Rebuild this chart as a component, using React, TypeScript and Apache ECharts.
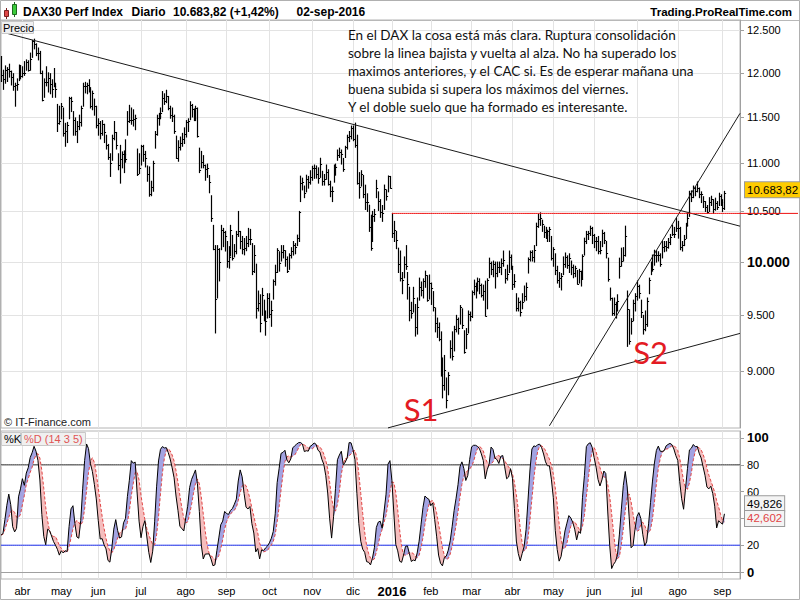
import React, { useEffect, useRef } from 'react';
import * as echarts from 'echarts';

const FONT = '"Liberation Sans", Arial, sans-serif';
const NOTE_FONT = 'Lato, "Liberation Sans", sans-serif';
const RED = '#e31b23';
const LINE_RED = '#ee1111';

// ---- trading calendar ----
const START_DATE = '2015-03-17';
const HOLIDAYS = [
  '2015-04-03', '2015-04-06', '2015-05-01', '2015-05-25', '2015-12-24', '2015-12-25',
  '2015-12-31', '2016-01-01', '2016-03-25', '2016-03-28', '2016-05-16',
];
const PAD_DAYS = 8;
const MONTHS = ['ene', 'feb', 'mar', 'abr', 'may', 'jun', 'jul', 'ago', 'sep', 'oct', 'nov', 'dic'];

// ---- daily DAX bars (high / low / close), 17-mar-2015 .. 02-sep-2016 ----
const HIGH = [
  12190, 12030, 12080, 12060, 12100, 12020, 11990, 11880, 11930, 12090, 12085,
  12070, 12130, 12150, 12140, 12230, 12380, 12395, 12340, 12290, 12250, 12020, 11930, 12070, 12000, 11990, 11920, 12050, 11880, 11640, 11620,
  11650, 11600, 11430, 11440, 11720, 11720, 11560, 11490, 11450, 11520, 11620, 11880, 11890, 11880, 11920, 11830, 11790, 11700, 11620,
  11480, 11450, 11460, 11420, 11300, 11200, 11100, 11300, 11450, 11330, 11100, 11190, 11120, 11130, 11250, 11560, 11630, 11600, 11580, 11520, 11150, 11100,
  11190, 11190, 11125, 10970, 10960, 10810, 11020, 11340, 11520, 11540, 11600, 11785, 11760, 11800, 11730, 11620, 11600, 11520, 11290, 11240, 11280, 11320, 11380,
  11460, 11480, 11670, 11640, 11590, 11620, 11600, 11160, 11125, 11080, 10980, 10990, 10870, 10660, 10360, 10160, 10160, 10130, 10360, 10330, 10300,
  10200, 10150, 10360, 10260, 10170, 10300, 10500, 10300, 10250, 10230, 10250, 10330, 10320, 10180, 10160, 9980, 9725, 9690, 9750, 9640, 9540, 9700,
  9700, 9630, 9830, 9970, 10130, 10100, 10160, 10160, 10110, 10050, 10080, 10140, 10200, 10180, 10263, 10500, 10863, 10842, 10760, 10873, 10860, 10920,
  10967, 10980, 10970, 10950, 11052, 10914, 10880, 10980, 10930, 10810, 10750, 10980, 10990, 11140, 11160, 11140, 11050, 11180, 11300, 11340, 11400,
  11400, 11432, 11300, 10900, 10920, 10870, 10769, 10680, 10563, 10462, 10500, 10520, 10820, 10700, 10620, 10560, 10770, 10720, 10865, 10860,
  10480, 10400, 10300, 10135, 10107, 9900, 10050, 10160, 9900, 9760, 9620, 9760, 9600, 9660, 9847, 9810, 9840, 9913, 9870, 9876,
  9800, 9720, 9567, 9475, 9430, 9350, 9118, 9140, 8944, 8990, 9270, 9350, 9400, 9500, 9475, 9590, 9560, 9360, 9380, 9540, 9530,
  9725, 9828, 9800, 9847, 9840, 9790, 9780, 9818, 9840, 10038, 10000, 10010, 10000, 10000, 10000, 10030, 10107, 9930, 9970, 10107, 10068,
  9960, 9880, 9700, 9660, 9630, 9700, 9772, 9800, 10040, 10107, 10110, 10160, 10382, 10472, 10486, 10412, 10352, 10340, 10312, 10340, 10250,
  10140, 10080, 9960, 9900, 9890, 10050, 10088, 10060, 10080, 10010, 9971, 9960, 9920, 9930, 9913, 10070, 10233, 10300, 10300, 10352, 10340,
  10270, 10240, 10250, 10200, 10312, 10290, 10200, 10038, 9753, 9659, 9660, 9620, 9690, 10038, 10135, 10140, 10352, 9725, 9550, 9470, 9640, 9700,
  9820, 9780, 9640, 9500, 9540, 9660, 9847, 10000, 10068, 10115, 10110, 10100, 10080, 10200, 10200, 10200, 10230, 10270, 10362, 10340, 10432,
  10400, 10340, 10200, 10260, 10380, 10480, 10706, 10710, 10760, 10750, 10802, 10740, 10700, 10650, 10600, 10560, 10640, 10655, 10620, 10635, 10600, 10686, 10670,
  10620, 10705,
];
const LOW = [
  11900, 11810, 11880, 11900, 11950, 11860, 11800, 11620, 11800, 11910, 11930,
  11950, 11970, 12030, 12020, 12030, 12180, 12280, 12200, 12150, 11990, 11680, 11720, 11850, 11780, 11760, 11720, 11840, 11720, 11340, 11420,
  11480, 11290, 11180, 11220, 11480, 11560, 11300, 11300, 11220, 11360, 11400, 11620, 11770, 11760, 11780, 11600, 11580, 11520, 11380,
  11300, 11260, 11300, 11220, 11150, 11040, 10860, 11030, 11250, 11150, 10930, 10790, 10950, 10900, 11010, 11300, 11440, 11420, 11400, 11360, 10870, 10890,
  10980, 11020, 10960, 10810, 10655, 10660, 10706, 11160, 11300, 11410, 11480, 11560, 11640, 11660, 11580, 11486, 11450, 11320, 11050, 11020, 11140, 11180, 11210,
  11280, 11340, 11470, 11500, 11460, 11460, 11280, 10900, 10950, 10950, 10820, 10850, 10690, 10400, 10120, 9340, 9660, 9820, 10120, 10150, 10107,
  9950, 9942, 10060, 10020, 10050, 10080, 10250, 10130, 10080, 10070, 10110, 10150, 10170, 9880, 9900, 9475, 9540, 9350, 9500, 9450, 9320, 9475,
  9480, 9400, 9650, 9780, 9900, 9913, 10010, 10040, 9960, 9900, 9930, 10040, 10068, 10080, 10160, 10200, 10600, 10720, 10640, 10700, 10738, 10780,
  10820, 10840, 10842, 10790, 10850, 10769, 10770, 10830, 10770, 10650, 10600, 10800, 10873, 11030, 11060, 10990, 10914, 11060, 11150, 11230, 11260,
  11240, 11170, 10780, 10635, 10760, 10640, 10520, 10500, 10300, 10115, 10200, 10400, 10640, 10510, 10440, 10400, 10520, 10615, 10700, 10738,
  10240, 10200, 10130, 9900, 9820, 9700, 9850, 9930, 9650, 9450, 9475, 9530, 9312, 9330, 9640, 9680, 9660, 9760, 9630, 9650,
  9600, 9540, 9350, 9300, 9270, 8960, 8774, 8840, 8690, 8800, 9118, 9100, 9180, 9350, 9330, 9420, 9380, 9160, 9200, 9340, 9450,
  9480, 9690, 9660, 9725, 9700, 9670, 9640, 9494, 9560, 9850, 9880, 9860, 9753, 9860, 9900, 9880, 9960, 9800, 9828, 9900, 9930,
  9740, 9760, 9540, 9540, 9494, 9560, 9630, 9640, 9895, 10010, 10010, 10000, 10160, 10340, 10360, 10300, 10240, 10230, 10200, 10200, 10020,
  9960, 9880, 9800, 9760, 9735, 9880, 9950, 9940, 9900, 9880, 9850, 9860, 9790, 9800, 9772, 9840, 10068, 10180, 10220, 10260, 10180,
  10140, 10110, 10080, 10080, 10150, 10180, 10040, 9818, 9640, 9500, 9500, 9475, 9540, 9847, 9960, 10010, 10058, 9220, 9240, 9330, 9450, 9540,
  9640, 9659, 9480, 9330, 9360, 9400, 9700, 9880, 9913, 9970, 10000, 10010, 9960, 10040, 10100, 10107, 10135, 10170, 10260, 10240, 10300,
  10233, 10120, 10107, 10160, 10230, 10352, 10450, 10600, 10640, 10660, 10700, 10640, 10590, 10540, 10500, 10480, 10500, 10560, 10480, 10512, 10520, 10560, 10560,
  10500, 10520,
];
const CLOSE = [
  11980, 11923, 12036, 12039, 12018, 11946, 11843, 11865, 11868, 12086, 11967,
  11998, 12001, 12123, 12035, 12166, 12374, 12338, 12227, 12231, 11998, 11689, 11891, 11896, 11939, 11867, 11810, 11850, 11811, 11432, 11454,
  11621, 11327, 11350, 11416, 11709, 11673, 11472, 11351, 11400, 11447, 11595, 11853, 11848, 11864, 11815, 11626, 11771, 11621, 11413,
  11436, 11328, 11419, 11340, 11197, 11064, 11001, 11265, 11332, 11196, 10984, 11044, 11100, 11100, 11040, 11460, 11471, 11472, 11473, 11492, 10890, 10945,
  11180, 11099, 11058, 10890, 10676, 10747, 10997, 11316, 11484, 11516, 11540, 11717, 11673, 11735, 11604, 11520, 11513, 11347, 11056, 11173, 11211, 11257, 11308,
  11444, 11456, 11636, 11585, 11490, 11604, 11293, 10925, 11015, 10985, 10940, 10950, 10800, 10432, 10124, 9648, 10128, 9997, 10315, 10298, 10259,
  10015, 10048, 10318, 10038, 10108, 10271, 10303, 10210, 10123, 10132, 10188, 10227, 10229, 9916, 10066, 9570, 9612, 9428, 9688, 9483, 9450, 9660,
  9509, 9553, 9815, 9902, 10119, 9993, 10097, 10119, 10033, 9915, 10065, 10104, 10165, 10147, 10238, 10492, 10795, 10801, 10692, 10831, 10801, 10850,
  10951, 10951, 10887, 10845, 10988, 10815, 10832, 10908, 10782, 10708, 10713, 10971, 10959, 11085, 11119, 11092, 10933, 11170, 11284, 11293, 11382,
  11261, 11190, 10789, 10752, 10886, 10673, 10592, 10598, 10340, 10140, 10450, 10470, 10738, 10608, 10497, 10488, 10727, 10653, 10860, 10743,
  10283, 10310, 10214, 9979, 9849, 9825, 9985, 9960, 9794, 9545, 9521, 9664, 9392, 9574, 9764, 9737, 9822, 9880, 9639, 9798,
  9757, 9581, 9434, 9393, 9286, 8979, 8880, 9017, 8752, 8967, 9206, 9135, 9377, 9463, 9388, 9573, 9416, 9167, 9331, 9513, 9495,
  9717, 9776, 9751, 9824, 9778, 9692, 9723, 9498, 9831, 9990, 9933, 9984, 9892, 9950, 9948, 9990, 10022, 9851, 9888, 10046, 9966,
  9794, 9822, 9564, 9624, 9530, 9622, 9682, 9761, 10027, 10094, 10051, 10120, 10350, 10421, 10435, 10373, 10294, 10260, 10299, 10322, 10039,
  10123, 9926, 9829, 9851, 9870, 9980, 10045, 9975, 10041, 9952, 9891, 9943, 9795, 9916, 9842, 10057, 10205, 10272, 10287, 10333, 10263,
  10205, 10209, 10103, 10121, 10288, 10218, 10088, 9834, 9657, 9520, 9607, 9551, 9631, 9962, 10015, 10071, 10258, 9557, 9269, 9448, 9613, 9680,
  9776, 9710, 9532, 9374, 9419, 9629, 9833, 9964, 9930, 10068, 10066, 10064, 9982, 10142, 10157, 10147, 10199, 10247, 10275, 10275, 10337,
  10330, 10145, 10170, 10228, 10367, 10432, 10693, 10651, 10743, 10713, 10740, 10677, 10679, 10603, 10544, 10495, 10593, 10623, 10529, 10588, 10545, 10658, 10593,
  10534, 10683.82,
];

// ---- axes / annotations ----
const PRICE_TICKS = [9000, 9500, 10000, 10500, 11000, 11500, 12000, 12500];
const PRICE_RANGE = [8523, 12626];
const STOCH_TICKS = [0, 20, 40, 60, 80, 100];
const STOCH_LABELS = [0, 20, 60, 80, 100]; // 40 sits under the value boxes
const STOCH_RANGE = [-5.2, 105.2];
const STOCH_BANDS = [
  { level: 80, color: '#3a3a3a' },
  { level: 20, color: '#1a2cf0' },
];
const LAST_PRICE = 10683.82;
const LAST_K = 49.826;
const LAST_D = 42.602;
const RESISTANCE = { from: '2016-01-04', price: 10480 };
const TRENDLINES = [
  { from: '2015-03-17', p1: 12484, p2: 10352 },
  { from: '2016-04-28', p1: 8541, p2: 11540 },
  { from: '2015-12-29', p1: 8524, p2: 9336 },
];
const SUPPORT_LABELS = [
  { text: 'S1', date: '2016-01-25', price: 8679 },
  { text: 'S2', date: '2016-07-12', price: 9168 },
];
const NOTE = [
  'En el DAX la cosa está más clara. Ruptura consolidación',
  'sobre la linea bajista y vuelta al alza. No ha superado los',
  'maximos anteriores, y el CAC si. Es de esperar mañana una',
  'buena subida si supera los máximos del viernes.',
  'Y el doble suelo que ha formado es interesante.',
];

function buildDates(n: number): string[] {
  const out: string[] = [];
  const d = new Date(START_DATE + 'T00:00:00Z');
  while (out.length < n) {
    const wd = d.getUTCDay();
    const s = d.toISOString().slice(0, 10);
    if (wd !== 0 && wd !== 6 && HOLIDAYS.indexOf(s) < 0) out.push(s);
    d.setUTCDate(d.getUTCDate() + 1);
  }
  return out;
}

const thousands = (n: number) => String(n).replace(/\B(?=(\d{3})+(?!\d))/g, '.');
const fmtPrice = (v: number) => {
  const [i, d] = v.toFixed(2).split('.');
  return thousands(+i) + ',' + d;
};
const fmtStoch = (v: number) => v.toFixed(3).replace('.', ',');

function sma(arr: number[], n: number): number[] {
  return arr.map((_, i) => {
    const s = Math.max(0, i - n + 1);
    let t = 0;
    for (let j = s; j <= i; j++) t += arr[j];
    return t / (i - s + 1);
  });
}

export default function App() {
  const ref = useRef<HTMLDivElement>(null);

  useEffect(() => {
    document.body.style.margin = '0';
    if (!ref.current) return;
    const chart = echarts.init(ref.current, undefined, { renderer: 'svg' });

    const N = CLOSE.length;
    const cats = buildDates(N + PAD_DAYS);
    const last = cats.length - 1;
    const monthStart = cats.map((c, i) => i > 0 && c.slice(5, 7) !== cats[i - 1].slice(5, 7));
    const idx = (d: string) => cats.indexOf(d);
    const L = Math.log;

    // stochastic (14, 3, 5)
    const raw = CLOSE.map((c, i) => {
      const s = Math.max(0, i - 13);
      let hh = -Infinity;
      let ll = Infinity;
      for (let j = s; j <= i; j++) {
        hh = Math.max(hh, HIGH[j]);
        ll = Math.min(ll, LOW[j]);
      }
      return hh > ll ? (100 * (c - ll)) / (hh - ll) : 50;
    });
    const K = sma(raw, 3);
    const D = sma(K, 5);
    const base = K.map((k, i) => Math.min(k, D[i]));
    const up = K.map((k, i) => (k > D[i] ? k - D[i] : 0));
    const dn = K.map((k, i) => (k < D[i] ? D[i] - k : 0));

    const bars = HIGH.map((h, i) => [i, L(h), L(LOW[i]), L(CLOSE[i])]);

    const xBase: any = {
      type: 'category',
      data: cats,
      boundaryGap: false,
      axisTick: { show: false },
      splitLine: { show: true, interval: (i: number) => monthStart[i], lineStyle: { color: '#e3e3e3' } },
    };

    const lineSeg = (a: number, pa: number, b: number, pb: number) => [
      { coord: [a, L(pa)] },
      { coord: [b, L(pb)] },
    ];

    const hidden = { color: 'rgba(0,0,0,0)', width: 0, opacity: 1 };
    const boxLabel = (text: string, bg: string, color: string, dy: number) => ({
      show: true,
      position: 'end',
      distance: 5,
      formatter: text,
      backgroundColor: bg,
      borderColor: '#9a9a9a',
      borderWidth: 1,
      padding: [2, 2, 1, 2],
      color,
      fontSize: 11.5,
      fontFamily: FONT,
      offset: [0, dy],
    });

    const graphics: any[] = [
      { id: 'frame', type: 'rect', shape: { x: 0.5, y: 0.5, width: 799, height: 599 }, style: { fill: 'none', stroke: '#b0b0b0' }, z: 1 },
      { id: 'hsep', type: 'line', shape: { x1: 0, y1: 20.5, x2: 800, y2: 20.5 }, style: { stroke: '#b8b8b8' } },
      { id: 'c1w', type: 'line', shape: { x1: 6.5, y1: 8, x2: 6.5, y2: 19 }, style: { stroke: '#7a2020' } },
      { id: 'c1b', type: 'rect', shape: { x: 4.5, y: 10.5, width: 4, height: 6 }, style: { fill: '#e04848', stroke: '#7a2020' } },
      { id: 'c2w', type: 'line', shape: { x1: 14.5, y1: 2, x2: 14.5, y2: 17 }, style: { stroke: '#1e6a1e' } },
      { id: 'c2b', type: 'rect', shape: { x: 12.5, y: 4.5, width: 4, height: 10 }, style: { fill: '#3ccc3c', stroke: '#1e6a1e' } },
      { id: 't1', type: 'text', x: 23, y: 11.5, style: { text: 'DAX30 Perf Index', font: `bold 12px ${FONT}`, fill: '#000', verticalAlign: 'middle' } },
      { id: 't2', type: 'text', x: 131.5, y: 11.5, style: { text: 'Diario', font: `bold 12px ${FONT}`, fill: '#000', verticalAlign: 'middle' } },
      { id: 't3', type: 'text', x: 173, y: 11.5, style: { text: `${fmtPrice(LAST_PRICE)} (+1,42%)`, font: `bold 12px ${FONT}`, fill: '#000', verticalAlign: 'middle' } },
      { id: 't4', type: 'text', x: 296.5, y: 11.5, style: { text: '02-sep-2016', font: `bold 12px ${FONT}`, fill: '#000', verticalAlign: 'middle' } },
      { id: 't5', type: 'text', x: 792, y: 11.5, style: { text: 'Trading.ProRealTime.com', font: `bold 11.5px ${FONT}`, fill: '#000', align: 'right', verticalAlign: 'middle' } },
      { id: 'pb', type: 'rect', shape: { x: 1.5, y: 21.5, width: 32, height: 12 }, style: { fill: '#f0f0f0', stroke: '#c8c8c8' }, z: 50 },
      { id: 'pt', type: 'text', x: 3, y: 27.5, style: { text: 'Precio', font: `11px ${FONT}`, fill: '#000', verticalAlign: 'middle' }, z: 51 },
      { id: 'note', type: 'text', x: 348, y: 26, style: { text: NOTE.join('\n'), font: `13.5px ${NOTE_FONT}`, lineHeight: 18, fill: '#111' }, z: 60 },
      { id: 'cpy', type: 'text', x: 4, y: 422, style: { text: '© IT-Finance.com', font: `11px ${FONT}`, fill: '#222', verticalAlign: 'middle' }, z: 50 },
      { id: 'kb', type: 'rect', shape: { x: 1.5, y: 432.5, width: 19, height: 13 }, style: { fill: '#f0f0f0', stroke: '#c8c8c8' }, z: 50 },
      { id: 'kt', type: 'text', x: 4, y: 439, style: { text: '%K', font: `11px ${FONT}`, fill: '#000', verticalAlign: 'middle' }, z: 51 },
      { id: 'db', type: 'rect', shape: { x: 21.5, y: 432.5, width: 64, height: 13 }, style: { fill: '#f0f0f0', stroke: '#c8c8c8' }, z: 50 },
      { id: 'dt', type: 'text', x: 24, y: 439, style: { text: '%D (14 3 5)', font: `11px ${FONT}`, fill: '#e05555', verticalAlign: 'middle' }, z: 51 },
    ];

    // horizontal reference levels drawn as ordinary line series
    const bandSeries = STOCH_BANDS.map((b, i) => ({
      name: 'band' + i,
      type: 'line',
      xAxisIndex: 1,
      yAxisIndex: 1,
      data: cats.map(() => b.level),
      symbol: 'none',
      color: b.color,
      itemStyle: { color: b.color },
      lineStyle: { color: b.color, width: 1 },
      silent: true,
      z: 2,
    }));
    const resFrom = idx(RESISTANCE.from);
    const resistanceSeries = {
      name: 'resistance',
      type: 'line',
      xAxisIndex: 0,
      yAxisIndex: 0,
      data: cats.map((_, i) => (i >= resFrom ? L(RESISTANCE.price) : null)),
      symbol: 'none',
      color: LINE_RED,
      itemStyle: { color: LINE_RED },
      lineStyle: { color: LINE_RED, width: 1 },
      silent: true,
      z: 5,
    };

    const option: any = {
      animation: false,
      backgroundColor: '#fff',
      grid: [
        { left: 1, right: 60, top: 20, height: 408, show: true, borderColor: '#b4b4b4', borderWidth: 1 },
        { left: 1, right: 60, top: 431, height: 148, show: true, borderColor: '#b4b4b4', borderWidth: 1 },
      ],
      xAxis: [
        { ...xBase, gridIndex: 0, axisLine: { show: false }, axisLabel: { show: false } },
        {
          ...xBase,
          gridIndex: 1,
          axisLine: { show: true, lineStyle: { color: '#a0a0a0' } },
          axisLabel: {
            show: true,
            interval: (i: number) => monthStart[i],
            formatter: (v: string) => {
              const m = +v.slice(5, 7) - 1;
              return m === 0 ? `{y|${v.slice(0, 4)}}` : MONTHS[m];
            },
            color: '#000',
            fontSize: 11,
            fontFamily: FONT,
            margin: 6,
            rich: { y: { fontWeight: 'bold', fontSize: 13, fontFamily: FONT, color: '#000' } },
          },
        },
      ],
      yAxis: [
        {
          type: 'value',
          gridIndex: 0,
          position: 'right',
          min: L(PRICE_RANGE[0]),
          max: L(PRICE_RANGE[1]),
          axisLine: { show: true, lineStyle: { color: '#a0a0a0' } },
          axisTick: { show: true, length: 4, customValues: PRICE_TICKS.map(L), lineStyle: { color: '#a0a0a0' } },
          axisLabel: {
            customValues: PRICE_TICKS.map(L),
            formatter: (v: number) => {
              const p = Math.round(Math.exp(v));
              const s = thousands(p);
              return p === 10000 ? `{b|${s}}` : s;
            },
            color: '#000',
            fontSize: 11,
            fontFamily: FONT,
            margin: 7,
            rich: { b: { fontWeight: 'bold', fontSize: 14, fontFamily: FONT, color: '#000' } },
          },
          splitLine: { show: true, lineStyle: { color: '#e3e3e3' } },
        },
        {
          type: 'value',
          gridIndex: 1,
          position: 'right',
          min: STOCH_RANGE[0],
          max: STOCH_RANGE[1],
          axisLine: { show: true, lineStyle: { color: '#a0a0a0' } },
          axisTick: { show: true, length: 4, customValues: STOCH_TICKS, lineStyle: { color: '#a0a0a0' } },
          axisLabel: {
            customValues: STOCH_LABELS,
            formatter: (v: number) => {
              const r = Math.round(v);
              return r === 0 || r === 100 ? `{b|${r}}` : String(r);
            },
            color: '#000',
            fontSize: 11,
            fontFamily: FONT,
            margin: 7,
            rich: { b: { fontWeight: 'bold', fontSize: 13, fontFamily: FONT, color: '#000' } },
          },
          splitLine: { show: true, lineStyle: { color: '#e3e3e3' } },
        },
      ],
      series: [
        {
          name: 'DAX',
          type: 'custom',
          xAxisIndex: 0,
          yAxisIndex: 0,
          data: bars,
          encode: { x: 0, y: [1, 2, 3] },
          silent: true,
          renderItem: (params: any, api: any) => {
            const i = api.value(0);
            const hi = api.coord([i, api.value(1)]);
            const lo = api.coord([i, api.value(2)]);
            const cl = api.coord([i, api.value(3)]);
            const px = Math.round(hi[0]) + 0.5;
            const cy = Math.round(cl[1]) + 0.5;
            return {
              type: 'group',
              children: [
                { type: 'line', shape: { x1: px, y1: hi[1] - 0.5, x2: px, y2: lo[1] + 0.5 }, style: { stroke: '#000', lineWidth: 1.2 } },
                { type: 'line', shape: { x1: px, y1: cy, x2: px + 1.6, y2: cy }, style: { stroke: '#000', lineWidth: 1 } },
              ],
            };
          },
          markLine: {
            silent: true,
            symbol: ['none', 'none'],
            label: { show: false },
            lineStyle: { color: '#1a1a1a', width: 1, type: 'solid' },
            data: TRENDLINES.map((t) => lineSeg(idx(t.from), t.p1, last, t.p2)),
          },
          markPoint: {
            silent: true,
            symbol: 'circle',
            symbolSize: 1,
            itemStyle: { color: 'rgba(0,0,0,0)' },
            label: { show: true, position: 'inside', formatter: '{b}', color: RED, fontSize: 31, fontFamily: NOTE_FONT },
            data: SUPPORT_LABELS.map((s) => ({ name: s.text, coord: [idx(s.date), L(s.price)] })),
          },
        },
        resistanceSeries,
        {
          name: 'lastPrice',
          type: 'line',
          xAxisIndex: 0,
          yAxisIndex: 0,
          data: [],
          silent: true,
          markLine: {
            silent: true,
            symbol: ['none', 'none'],
            lineStyle: hidden,
            data: [{ yAxis: L(LAST_PRICE), label: boxLabel(fmtPrice(LAST_PRICE), '#ffcc00', '#000', 0) }],
          },
        },
        {
          name: 'base', type: 'line', xAxisIndex: 1, yAxisIndex: 1, stack: 'st', data: base,
          symbol: 'none', lineStyle: { opacity: 0 }, silent: true,
        },
        {
          name: 'up', type: 'line', xAxisIndex: 1, yAxisIndex: 1, stack: 'st', data: up,
          symbol: 'none', lineStyle: { opacity: 0 }, areaStyle: { color: '#a3a3e2', opacity: 1 }, silent: true,
        },
        {
          name: 'dn', type: 'line', xAxisIndex: 1, yAxisIndex: 1, stack: 'st', data: dn,
          symbol: 'none', lineStyle: { opacity: 0 }, areaStyle: { color: '#f5bdbd', opacity: 1 }, silent: true,
        },
        ...bandSeries,
        {
          name: '%D', type: 'line', xAxisIndex: 1, yAxisIndex: 1, data: D,
          symbol: 'none', lineStyle: { color: '#e04545', width: 1, type: [3, 2] }, silent: true, z: 3,
        },
        {
          name: '%K', type: 'line', xAxisIndex: 1, yAxisIndex: 1, data: K,
          symbol: 'none', lineStyle: { color: '#000', width: 1 }, silent: true, z: 4,
        },
        {
          name: 'lastStoch',
          type: 'line',
          xAxisIndex: 1,
          yAxisIndex: 1,
          data: [],
          silent: true,
          z: 10,
          markLine: {
            silent: true,
            symbol: ['none', 'none'],
            lineStyle: hidden,
            data: [
              { yAxis: LAST_K, label: boxLabel(fmtStoch(LAST_K), '#f4f4f4', '#000', -1.5) },
              { yAxis: LAST_D, label: boxLabel(fmtStoch(LAST_D), '#f4f4f4', '#e04545', 3.5) },
            ],
          },
        },
      ],
      graphic: { elements: graphics },
    };

    chart.setOption(option);

    const p = chart.convertToPixel({ xAxisIndex: 0, yAxisIndex: 0 }, [last, L(RESISTANCE.price)]) as number[];
    if (p && isFinite(p[0])) {
      chart.setOption({
        graphic: {
          elements: [
            { id: 'resExt', type: 'line', shape: { x1: p[0], y1: p[1], x2: chart.getWidth() - 2, y2: p[1] }, style: { stroke: LINE_RED, lineWidth: 1 }, z: 100 },
          ],
        },
      });
    }

    return () => chart.dispose();
  }, []);

  return <div ref={ref} style={{ width: 800, height: 600 }} />;
}
